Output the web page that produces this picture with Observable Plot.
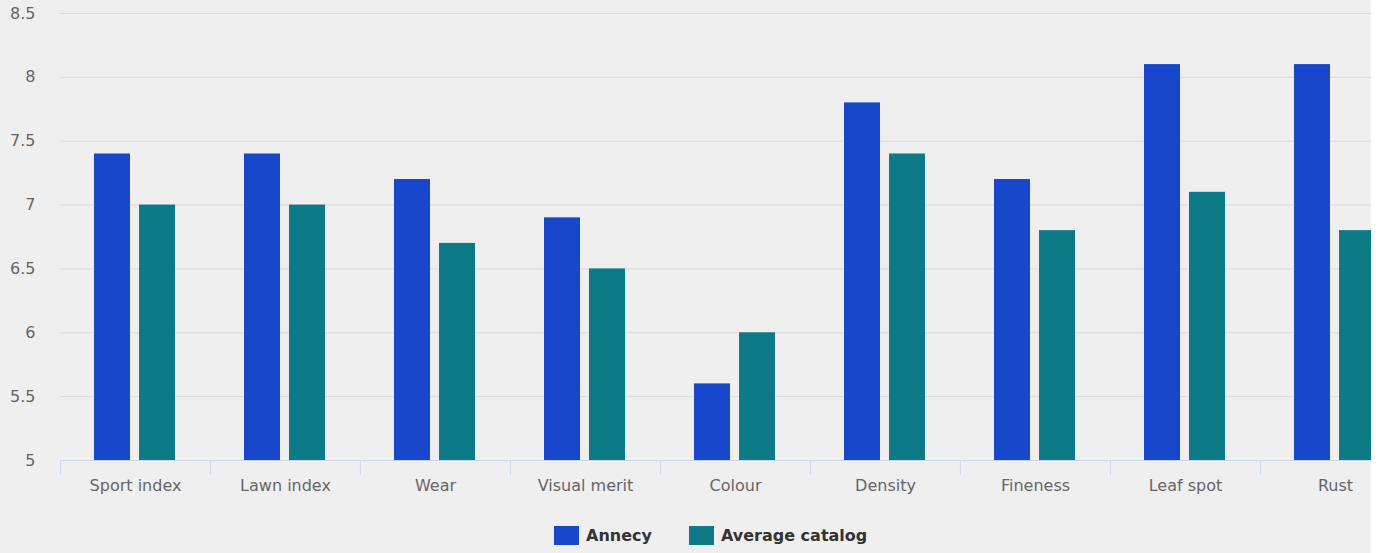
<!DOCTYPE html>
<html>
<head>
<meta charset="utf-8">
<script src="https://cdn.jsdelivr.net/npm/d3@7"></script>
<script src="https://cdn.jsdelivr.net/npm/@observablehq/plot@0.6"></script>
<style>
  html, body { margin: 0; padding: 0; background: #ffffff; }
  #wrap { position: relative; width: 1371px; height: 553px; overflow: hidden; background: #efefef; font-family: "DejaVu Sans", sans-serif; }
  #chart svg { max-width: none !important; }
  #legend { position: absolute; left: 554px; top: 526px; display: flex; align-items: center; font-size: 16px; font-weight: bold; color: #333333; }
  .item { display: flex; align-items: center; margin-right: 37px; }
  .sw { width: 25px; height: 19px; margin-right: 7px; }
</style>
</head>
<body>
<div id="wrap"><div id="chart"></div><div id="legend"></div></div>
<script>
const categories = ["Sport index", "Lawn index", "Wear", "Visual merit", "Colour", "Density", "Fineness", "Leaf spot", "Rust"];
const seriesNames = ["Annecy", "Average catalog"];
const annecy = [7.4, 7.4, 7.2, 6.9, 5.6, 7.8, 7.2, 8.1, 8.1];
const averageCatalog = [7.0, 7.0, 6.7, 6.5, 6.0, 7.4, 6.8, 7.1, 6.8];
const yTicks = [5, 5.5, 6, 6.5, 7, 7.5, 8, 8.5];
const colors = ["#1947cc", "#0c7b87"];

const data = [];
categories.forEach((c, i) => {
  data.push({category: c, series: seriesNames[0], value: annecy[i]});
  data.push({category: c, series: seriesNames[1], value: averageCatalog[i]});
});

const width = 1411, marginLeft = 59, marginRight = 0;
const half = (width - marginLeft - marginRight) / categories.length / 2;

const chart = Plot.plot({
  width, height: 500,
  marginLeft, marginRight, marginTop: 13, marginBottom: 40,
  style: {background: "transparent", fontFamily: "DejaVu Sans, sans-serif", fontSize: "16px", color: "#666666", maxWidth: "none"},
  fx: {domain: categories, padding: 0, label: null},
  x: {domain: seriesNames, paddingInner: 0.196, paddingOuter: 0.73, axis: null},
  y: {domain: [5, 8.5], label: null},
  color: {domain: seriesNames, range: colors},
  marks: [
    Plot.gridY(yTicks.filter(d => d > 5), {stroke: "#d9d9d9", strokeOpacity: 1}),
    Plot.barY(data, {fx: "category", x: "series", y1: 5, y2: "value", fill: "series"}),
    Plot.ruleY([5], {stroke: "#ccd6eb", strokeWidth: 1}),
    Plot.axisFx({anchor: "bottom", tickSize: 15, text: null, dx: -half, stroke: "#ccd6eb", strokeOpacity: 1, label: null, tickPadding: 0}),
    Plot.axisFx({anchor: "bottom", tickSize: 0, tickPadding: 19, fill: "#666666", label: null}),
    Plot.axisY({ticks: yTicks, tickSize: 0, tickPadding: 25, tickFormat: d => String(d), fill: "#666666", label: null})
  ]
});
document.getElementById("chart").appendChild(chart);

const legend = document.getElementById("legend");
seriesNames.forEach((s, i) => {
  const it = document.createElement("div");
  it.className = "item";
  const sw = document.createElement("div");
  sw.className = "sw";
  sw.style.background = colors[i];
  const t = document.createElement("span");
  t.textContent = s;
  it.appendChild(sw); it.appendChild(t);
  legend.appendChild(it);
});
</script>
</body>
</html>
